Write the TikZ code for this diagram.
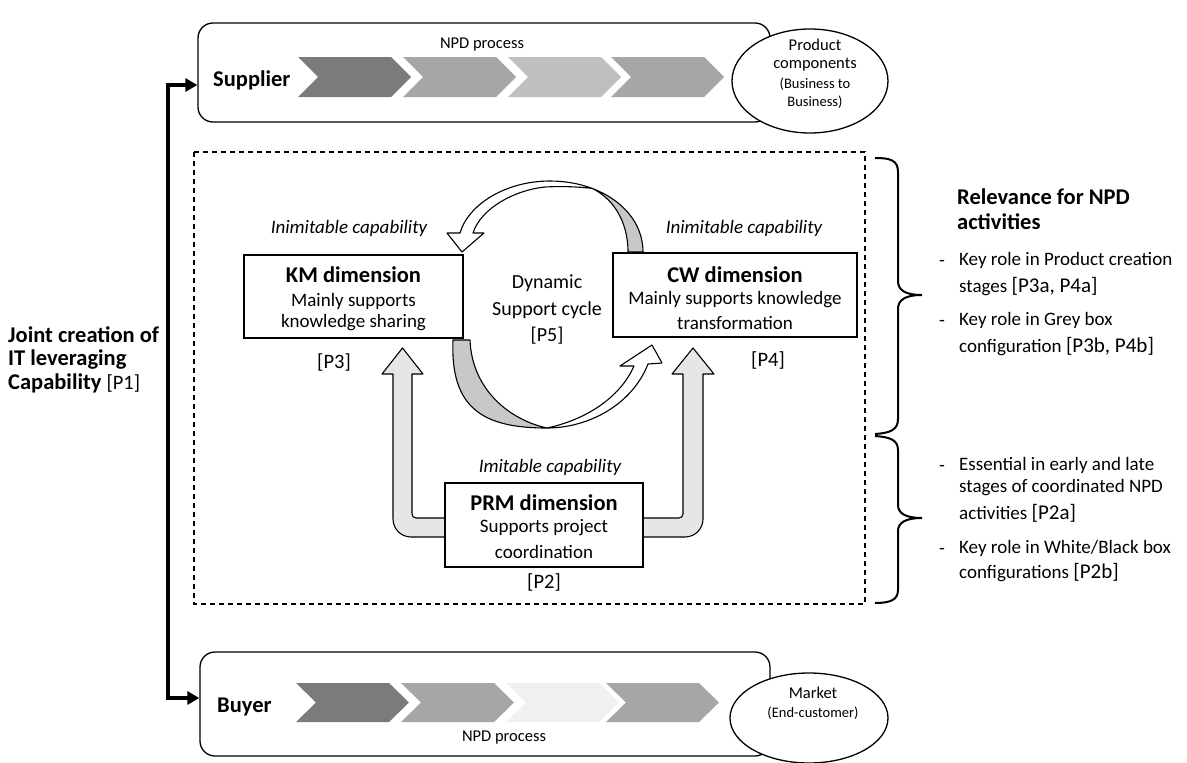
\documentclass[tikz,border=0pt]{standalone}
\usepackage{fontspec}
\setmainfont{Carlito}
\usetikzlibrary{arrows.meta,calc,shapes.geometric}
\newcommand{\myhead}{\fontsize{22.5}{27}\selectfont\bfseries}
\newcommand{\mybody}{\fontsize{19}{23}\selectfont}
\newcommand{\mydyn}{\fontsize{20}{24}\selectfont}
\newcommand{\mysmall}{\fontsize{16.5}{20}\selectfont}
\newcommand{\mytiny}{\fontsize{14.5}{18}\selectfont}
\newcommand{\myref}{\fontsize{21}{24}\selectfont}
\newcommand{\mylab}{\fontsize{20.5}{24}\selectfont}
\definecolor{chA}{HTML}{7B7B7B}
\definecolor{chB}{HTML}{A6A6A6}
\definecolor{chC}{HTML}{BFBFBF}
\definecolor{chD}{HTML}{F0F0F0}
\definecolor{crescent}{HTML}{C8C8C8}
\definecolor{uarrow}{HTML}{E6E6E6}
\begin{document}
\begin{tikzpicture}[x=1pt,y=-1pt,
  t/.style={inner sep=0pt},
  tw/.style={inner sep=0pt, anchor=west},
  box/.style={draw, line width=1.3pt, fill=white, inner sep=0pt},
  rbox/.style={draw, line width=1.3pt, rounded corners=15pt, inner sep=0pt},
  ell/.style={draw, ellipse, fill=white, line width=1.3pt, inner sep=0pt},
  band/.style={line width=1.1pt, line join=round},
  brace/.style={line width=2pt},
  joint/.style={line width=4.5pt, {Triangle[length=12pt,width=13pt]}-{Triangle[length=12pt,width=13pt]}}
]
\useasboundingbox (0,0) rectangle (1187,763);

% ---------- Supplier ----------
\node[rbox, minimum width=572pt, minimum height=99pt] (supbox) at (484,72.5) {};
\foreach \L/\c in {298/chA,403/chB,508/chC,611/chB}{
  \fill[\c] (\L,57) -- ++(93,0) -- ++(20,20) -- ++(-20,20) -- ++(-93,0) -- ++(20,-20) -- cycle;
}
\node[tw, font=\myhead] (suptxt) at (213,80) {Supplier};
\node[t, font=\mysmall] (supnpd) at (482,45) {NPD process};
\node[ell, minimum width=156pt, minimum height=104pt] (supell) at (810,81) {};
\node[t, font=\mysmall] (e1) at (815,45) {Product};
\node[t, font=\mysmall] (e2) at (815,65) {components};
\node[t, font=\mytiny] (e3) at (815,84) {(Business to};
\node[t, font=\mytiny] (e4) at (815,102) {Business)};

% ---------- Buyer ----------
\node[rbox, minimum width=570pt, minimum height=104pt] (buybox) at (485,704) {};
\foreach \L/\c in {296/chA,401/chB,506/chD,606/chB}{
  \fill[\c] (\L,683) -- ++(93,0) -- ++(20,19.5) -- ++(-20,19.5) -- ++(-93,0) -- ++(20,-19.5) -- cycle;
}
\node[tw, font=\myhead] (buytxt) at (217,707) {Buyer};
\node[t, font=\mysmall] (buynpd) at (504,738) {NPD process};
\node[ell, minimum width=158pt, minimum height=90pt] (buyell) at (809,718) {};
\node[t, font=\mysmall] (m1) at (813,693) {Market};
\node[t, font=\mytiny] (m2) at (813,713) {(End-customer)};

% ---------- joint connector ----------
\coordinate (jt) at (168,85);
\coordinate (jb) at (168,698);
\draw[joint] (supbox.west |- jt) -- (jt) -- (jb) -- (buybox.west |- jb);
\node[tw, font=\myhead] (j1) at (8,335) {Joint creation of};
\node[tw, font=\myhead] (j2) at (8,360) {IT leveraging};
\node[tw, font=\myhead] (j3) at (8,383) {Capability {\mdseries\mylab [P1]}};

% ---------- dashed frame ----------
\draw[line width=1.1pt, dash pattern=on 5pt off 4pt] (194,152) rectangle (865,604);

% ---------- cycle arrows ----------
\filldraw[band, fill=crescent] (643,252) .. controls (643,222.6) and (621.9,199.7) .. (592.2,188.4)
   .. controls (612,198) and (628,220) .. (628,252) -- cycle;
\filldraw[band, fill=white] (592.2,188.4) .. controls (579.4,183.6) and (565,181) .. (550,181)
   .. controls (505,181) and (468,205) .. (460,233) -- (447,233) -- (462,252) -- (484,233) -- (473,233)
   .. controls (481,208) and (515,190) .. (545,187) .. controls (565,186) and (580,187) .. cycle;
\filldraw[band, fill=crescent] (453,340) .. controls (450,410) and (485,428) .. (547,428)
   .. controls (510,420) and (472,390) .. (470,340) -- cycle;
\filldraw[band, fill=white] (547,428) .. controls (588,428) and (632,405) .. (648,364) -- (662,363)
   -- (652,345) -- (620,366) -- (634,366) .. controls (620,398) and (585,420) .. cycle;

% ---------- PRM U arrows ----------
\filldraw[band, fill=uarrow] (450,537) -- (411,537) arc[start angle=90, end angle=180, radius=18]
   -- (393,374) -- (382,374) -- (402.5,348) -- (423,374) -- (412,374) -- (412,514)
   arc[start angle=180, end angle=90, radius=4] -- (450,518) -- cycle;
\filldraw[band, fill=uarrow] (638,537) -- (685,537) arc[start angle=90, end angle=0, radius=18]
   -- (703,374) -- (714,374) -- (693,348) -- (672,374) -- (683,374) -- (683,514)
   arc[start angle=0, end angle=90, radius=4] -- (638,518) -- cycle;

% ---------- KM ----------
\node[box, minimum width=219pt, minimum height=83pt] (km) at (353.5,296.5) {};
\node[t, font=\myhead] (km1) at (353.5,275) {KM dimension};
\node[t, font=\mybody] (km2) at (353.5,301) {Mainly supports};
\node[t, font=\mybody] (km3) at (353.5,323) {knowledge sharing};
\node[t, font=\mybody\itshape] (kmi) at (349,228) {Inimitable capability};
\node[t, font=\mylab] (kmp) at (334,362) {[P3]};

% ---------- CW ----------
\node[box, minimum width=244pt, minimum height=84pt] (cw) at (735,295) {};
\node[t, font=\myhead] (cw1) at (735,275) {CW dimension};
\node[t, font=\mybody] (cw2) at (735,300) {Mainly supports knowledge};
\node[t, font=\mybody] (cw3) at (735,323) {transformation};
\node[t, font=\mybody\itshape] (cwi) at (744,228) {Inimitable capability};
\node[t, font=\mylab] (cwp) at (768,360) {[P4]};

% ---------- Dynamic ----------
\node[t, font=\mydyn] (d1) at (547,283) {Dynamic};
\node[t, font=\mydyn] (d2) at (547,310) {Support cycle};
\node[t, font=\mydyn] (d3) at (547,336) {[P5]};

% ---------- PRM ----------
\node[box, minimum width=198pt, minimum height=84pt] (prm) at (544,525) {};
\node[t, font=\myhead] (prm1) at (544,503) {PRM dimension};
\node[t, font=\mybody] (prm2) at (544,528) {Supports project};
\node[t, font=\mybody] (prm3) at (544,552) {coordination};
\node[t, font=\mybody\itshape] (prmi) at (550,467) {Imitable capability};
\node[t, font=\mylab] (prmp) at (544,582) {[P2]};

% ---------- braces ----------
\draw[brace] (875,158) .. controls (890,158) and (898,160) .. (898,172) -- (898,281)
   .. controls (898,290) and (905,295) .. (922,295) .. controls (905,295) and (898,300) .. (898,309)
   -- (898,419) .. controls (898,430) and (890,433) .. (875,434);
\draw[brace] (875,436) .. controls (890,437) and (898,440) .. (898,450) -- (898,505)
   .. controls (898,513) and (905,518) .. (922,518) .. controls (905,518) and (898,523) .. (898,531)
   -- (898,590) .. controls (898,600) and (890,603) .. (875,603);

% ---------- right text ----------
\node[tw, font=\myhead] (r0) at (957,197) {Relevance for NPD};
\node[tw, font=\myhead] (r00) at (957,222) {activities};
\foreach \y/\n in {263/a,323/b,468/c,551/d}{
  \node[t, font=\mybody] (dash\n) at (942,\y) {-};
}
\node[tw, font=\mybody] (r1) at (959,260) {Key role in Product creation};
\node[tw, font=\mybody] (r2) at (959,287) {stages {\myref[P3a, P4a]}};
\node[tw, font=\mybody] (r3) at (959,320) {Key role in Grey box};
\node[tw, font=\mybody] (r4) at (959,347) {configuration {\myref[P3b, P4b]}};
\node[tw, font=\mybody] (r5) at (959,465) {Essential in early and late};
\node[tw, font=\mybody] (r6) at (959,488) {stages of coordinated NPD};
\node[tw, font=\mybody] (r7) at (959,513) {activities {\myref[P2a]}};
\node[tw, font=\mybody] (r8) at (959,548) {Key role in White/Black box};
\node[tw, font=\mybody] (r9) at (959,573) {configurations {\myref[P2b]}};
\end{tikzpicture}
\end{document}
